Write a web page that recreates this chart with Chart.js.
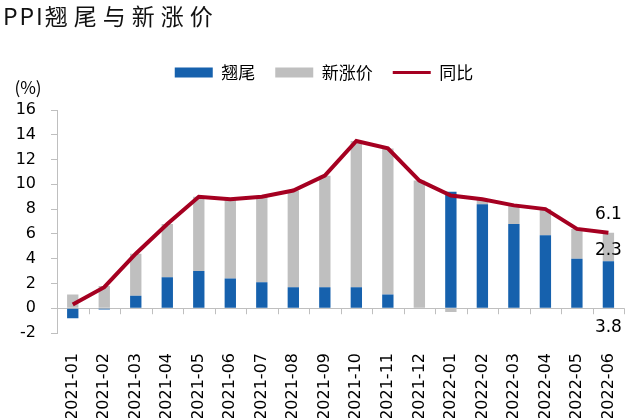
<!DOCTYPE html>
<html>
<head>
<meta charset="utf-8">
<script src="https://cdn.jsdelivr.net/npm/chart.js@4/dist/chart.umd.min.js"></script>
<style>
  html, body { margin: 0; padding: 0; background: #fff; }
  #wrap { position: relative; width: 640px; height: 418px; }
  #title {
    position: absolute; left: 3px; top: 0px;
    font: 23px 'Noto Sans CJK SC';
    line-height: 30px; color: #111; white-space: nowrap;
  }
  #title .latin { letter-spacing: 2px; }
  #title .cjk { letter-spacing: 6px; }
  canvas { display: block; }
</style>
</head>
<body>
<div id="wrap">
  <canvas id="chart" width="640" height="418"></canvas>
  <div id="title"><span class="latin">PPI</span><span class="cjk">翘尾与新涨价</span></div>
</div>
<script>
const months = [
  "2021-01", "2021-02", "2021-03", "2021-04", "2021-05", "2021-06",
  "2021-07", "2021-08", "2021-09", "2021-10", "2021-11", "2021-12",
  "2022-01", "2022-02", "2022-03", "2022-04", "2022-05", "2022-06"
];
// 翘尾
const carryover = [-0.8, -0.1, 1.0, 2.5, 3.0, 2.4, 2.1, 1.7, 1.7, 1.7, 1.1, 0, 9.4, 8.4, 6.8, 5.9, 4.0, 3.8];
// 新涨价
const newRise = [1.1, 1.8, 3.4, 4.3, 6.0, 6.4, 6.9, 7.8, 9.0, 11.8, 11.8, 10.3, -0.3, 0.4, 1.5, 2.1, 2.4, 2.3];
// 同比
const yoy = [0.3, 1.7, 4.4, 6.8, 9.0, 8.8, 9.0, 9.5, 10.7, 13.5, 12.9, 10.3, 9.1, 8.8, 8.3, 8.0, 6.4, 6.1];

const axisColor = "#bfbfbf";

// push the plot area down below the legend
const legendGap = {
  id: "legendGap",
  beforeInit(chart) {
    const fit = chart.legend.fit;
    chart.legend.fit = function () {
      fit.call(this);
      this.height += 19;
    };
  },
  afterLayout(chart) {
    // legend sits a little right of centre in the original
    chart.legend.left += 22;
  },
};

// small tick marks under the zero line, "(%)" unit, last-point labels
const extras = {
  id: "extras",
  afterDraw(chart) {
    const ctx = chart.ctx;
    const x = chart.scales.x;
    const y = chart.scales.y;
    const y0 = y.getPixelForValue(0);
    const step = x.width / months.length;

    ctx.save();
    ctx.strokeStyle = axisColor;
    ctx.lineWidth = 1;
    ctx.beginPath();
    for (let i = 1; i <= months.length; i++) {
      const px = Math.round(x.left + i * step) + 0.5;
      ctx.moveTo(px, y0);
      ctx.lineTo(px, y0 + 6);
    }
    ctx.stroke();

    ctx.fillStyle = "#000";
    ctx.textAlign = "center";
    ctx.textBaseline = "middle";
    ctx.font = "17px 'Noto Sans CJK SC'";
    ctx.fillText("(%)", 28, y.top - 22);

    const n = months.length - 1;
    const blue = chart.getDatasetMeta(0).data[n];
    const gray = chart.getDatasetMeta(1).data[n];
    const pt = chart.getDatasetMeta(2).data[n];
    ctx.font = "17px 'DejaVu Sans'";
    ctx.fillText(yoy[n].toFixed(1), pt.x, pt.y - 18);
    ctx.fillText(newRise[n].toFixed(1), gray.x, (gray.y + gray.base) / 2 + 4);
    ctx.fillText(carryover[n].toFixed(1), blue.x, y0 + 19);
    ctx.restore();
  },
};

const data = {
  labels: months,
  datasets: [
    {
      type: "bar",
      label: "翘尾",
      data: carryover,
      backgroundColor: "#1661ad",
      borderWidth: 0,
      pointStyle: "rect",
      barPercentage: 0.36,
      categoryPercentage: 1,
      stack: "bars",
      order: 1,
    },
    {
      type: "bar",
      label: "新涨价",
      data: newRise,
      backgroundColor: "#bfbfbf",
      borderWidth: 0,
      pointStyle: "rect",
      barPercentage: 0.36,
      categoryPercentage: 1,
      stack: "bars",
      order: 1,
    },
    {
      type: "line",
      label: "同比",
      data: yoy,
      borderColor: "#a50021",
      backgroundColor: "#a50021",
      borderWidth: 4,
      pointRadius: 0,
      pointStyle: "line",
      pointBorderColor: "#a50021",
      pointBorderWidth: 3,
      tension: 0,
      stack: "line",
      order: 0,
    },
  ],
};

const config = {
  type: "bar",
  data: data,
  options: {
    responsive: false,
    animation: false,
    devicePixelRatio: 1,
    layout: {
      padding: { top: 44, left: 0, right: 14, bottom: 0 },
    },
    plugins: {
      tooltip: { enabled: false },
      legend: {
        display: true,
        position: "top",
        labels: {
          usePointStyle: true,
          pointStyleWidth: 38,
          boxHeight: 10,
          padding: 20,
          color: "#000",
          font: { family: "'Noto Sans CJK SC'", size: 17 },
          sort: (a, b) => a.datasetIndex - b.datasetIndex,
        },
      },
    },
    scales: {
      x: {
        stacked: true,
        grid: { display: false },
        border: { display: false },
        ticks: {
          autoSkip: false,
          minRotation: 90,
          maxRotation: 90,
          padding: 12,
          color: "#000",
          font: { family: "'DejaVu Sans'", size: 16 },
        },
        afterFit(scale) {
          scale.height = 85;
        },
      },
      y: {
        stacked: true,
        min: -2,
        max: 16,
        border: { display: true, color: axisColor, width: 1 },
        grid: {
          color: (c) => (c.tick && c.tick.value === 0 ? axisColor : "rgba(0,0,0,0)"),
          tickColor: axisColor,
          tickLength: 6,
          drawTicks: true,
        },
        ticks: {
          stepSize: 2,
          padding: 15,
          color: "#000",
          font: { family: "'DejaVu Sans'", size: 16 },
        },
        afterFit(scale) {
          scale.width = 57;
        },
      },
    },
  },
  plugins: [legendGap, extras],
};

new Chart(document.getElementById("chart"), config);
</script>
</body>
</html>
